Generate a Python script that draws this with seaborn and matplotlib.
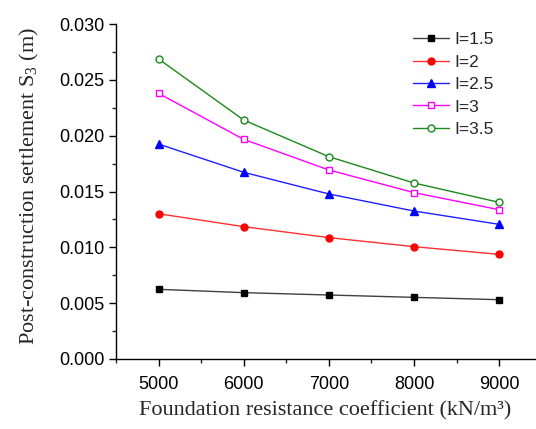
import matplotlib
matplotlib.use("Agg")
import matplotlib.pyplot as plt
import seaborn as sns
import pandas as pd
from matplotlib.ticker import MultipleLocator, FormatStrFormatter

x_vals = [5000, 6000, 7000, 8000, 9000]
labels = ["I=1.5", "I=2", "I=2.5", "I=3", "I=3.5"]
s_15 = [0.00624, 0.00594, 0.00573, 0.00552, 0.00531]
s_20 = [0.01301, 0.01185, 0.01087, 0.01006, 0.00937]
s_25 = [0.01925, 0.01672, 0.01478, 0.01325, 0.01206]
s_30 = [0.02379, 0.01967, 0.01693, 0.01490, 0.01337]
s_35 = [0.02687, 0.02140, 0.01812, 0.01576, 0.01403]
series = [s_15, s_20, s_25, s_30, s_35]

rows = []
for lab, vals in zip(labels, series):
    for xv, yv in zip(x_vals, vals):
        rows.append({"k": xv, "s": yv, "series": lab})
df = pd.DataFrame(rows)

sns.set_style("ticks")
plt.rcParams['font.family'] = ['Liberation Sans', 'DejaVu Sans']
plt.rcParams['mathtext.fontset'] = 'custom'
plt.rcParams['mathtext.rm'] = 'Liberation Serif'
plt.rcParams['mathtext.it'] = 'Liberation Serif:italic'

styles = {
    "I=1.5": dict(color="#404040", marker="s", mfc="black", mec="black", ms=4.5),
    "I=2": dict(color="#ff3030", marker="o", mfc="red", mec="red", ms=5),
    "I=2.5": dict(color="#2020ff", marker="^", mfc="blue", mec="blue", ms=6),
    "I=3": dict(color="#ff00ff", marker="s", mfc="white", mec="#ff00ff", ms=5),
    "I=3.5": dict(color="#1a8a1a", marker="o", mfc="white", mec="#1a8a1a", ms=5),
}

fig = plt.figure(figsize=(5.36, 4.29), dpi=100)
ax = fig.add_axes([0.2164, 0.1632, 0.7816, 0.7808])

for lab in labels:
    st = styles[lab]
    sub = df[df["series"] == lab]
    sns.lineplot(data=sub, x="k", y="s", ax=ax, label=lab, color=st["color"],
                 marker=st["marker"], markerfacecolor=st["mfc"],
                 markeredgecolor=st["mec"], markersize=st["ms"],
                 markeredgewidth=1.0, linewidth=1.0)

ax.set_xlim(4500, 9420)
ax.set_ylim(0, 0.030)
ax.xaxis.set_major_locator(MultipleLocator(1000))
ax.xaxis.set_minor_locator(MultipleLocator(500))
ax.yaxis.set_major_locator(MultipleLocator(0.005))
ax.yaxis.set_minor_locator(MultipleLocator(0.0025))
ax.yaxis.set_major_formatter(FormatStrFormatter("%.3f"))
ax.tick_params(axis="both", which="major", direction="out", length=5, width=1,
               labelsize=13, colors="black")
ax.tick_params(axis="x", which="major", pad=7)
ax.tick_params(axis="both", which="minor", direction="out", length=3, width=1)
for sp in ["top", "right"]:
    ax.spines[sp].set_visible(False)
for sp in ["left", "bottom"]:
    ax.spines[sp].set_linewidth(1.0)
    ax.spines[sp].set_color("black")

serif = ['Liberation Serif', 'DejaVu Serif']
ax.set_xlabel("Foundation resistance coefficient (kN/m\u00b3)", family=serif,
              fontsize=16, labelpad=6)
ax.set_ylabel(r"Post-construction settlement S$_{\rm 3}$ (m)", family=serif,
              fontsize=16)
ax.yaxis.set_label_coords(-0.18, 0.516)

leg = ax.legend(loc="upper left", bbox_to_anchor=(0.709, 0.976), frameon=False,
                fontsize=12.5, handlelength=2.1, handletextpad=0.3,
                labelspacing=0.42, borderaxespad=0.0, borderpad=0.0)

fig.savefig("out.png", dpi=100)
